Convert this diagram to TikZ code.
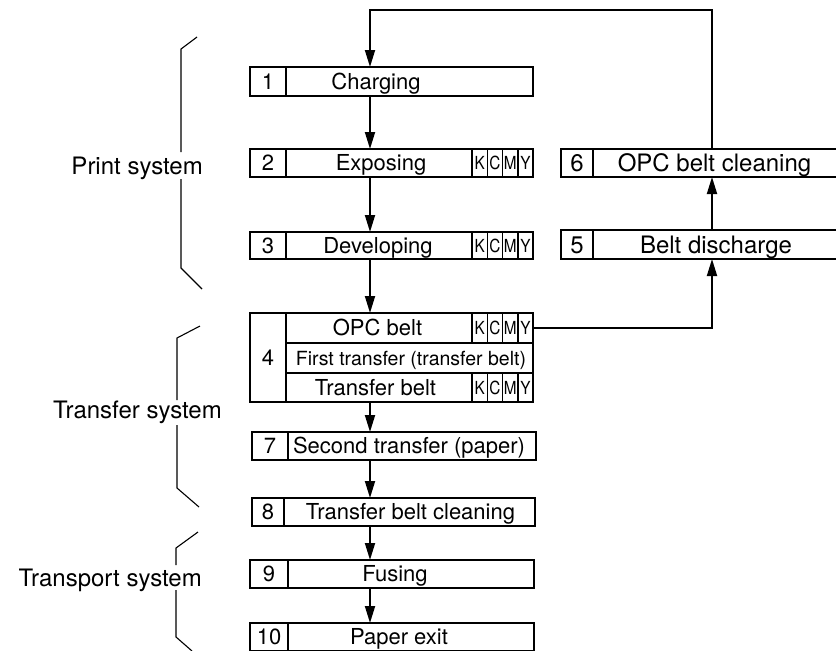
\documentclass[tikz,border=0pt]{standalone}
\usepackage{fontspec}
\setmainfont{TeX Gyre Heros}
\usetikzlibrary{arrows.meta,positioning}

\tikzset{
  box/.style={draw,line width=1.5pt,inner sep=0pt,outer sep=0pt,anchor=north west},
  numcell/.style={box,minimum width=36pt,font=\fontsize{22}{22}\selectfont,text height=15.8pt,text depth=0pt},
  bignum/.style={numcell,minimum width=32pt,font=\fontsize{24}{24}\selectfont,text height=17.2pt},
  kcmy/.style={box,minimum width=15.25pt,font=\fontsize{18}{18}\selectfont,text height=13pt,text depth=0pt},
  txt/.style={inner sep=0pt,font=\fontsize{22}{22}\selectfont,text height=15.8pt,text depth=0pt},
  bigtxt/.style={txt,font=\fontsize{24}{24}\selectfont,text height=17.2pt},
  grouplabel/.style={inner sep=0pt,anchor=east,font=\fontsize{24}{24}\selectfont,text height=17.2pt,text depth=0pt},
  flow/.style={line width=1.8pt,-{Triangle[length=17pt,width=10pt]}},
  brace/.style={line width=1.1pt}
}

\begin{document}
\begin{tikzpicture}[x=1pt,y=-1pt]
  \useasboundingbox (0,0) rectangle (836,651);

  % process steps
  \node[box,minimum width=283pt,minimum height=29pt] (b1) at (250,67) {};
  \node[numcell,minimum height=29pt] (n1) at (250,67) {1};
  \node[txt] (t1) at (376,81.5) {Charging};

  \node[box,minimum width=283pt,minimum height=28pt] (b2) at (250,149) {};
  \node[numcell,minimum height=28pt] (n2) at (250,149) {2};
  \node[txt] (t2) at (381,163) {Exposing};

  \node[box,minimum width=283pt,minimum height=27pt] (b3) at (250,232) {};
  \node[numcell,minimum height=27pt] (n3) at (250,232) {3};
  \node[txt] (t3) at (378,245.5) {Developing};

  \node[numcell,minimum height=89pt] (n4) at (250,313) {4};
  \node[box,minimum width=247pt,minimum height=30pt] (r4a) at (286,313) {};
  \node[box,minimum width=247pt,minimum height=30pt] (r4b) at (286,343) {};
  \node[box,minimum width=247pt,minimum height=29pt] (r4c) at (286,373) {};
  \node[txt] (t4a) at (377.5,328) {OPC belt};
  \node[txt,font=\fontsize{19.5}{19.5}\selectfont,text height=14pt] (t4b) at (411,358) {First transfer (transfer belt)};
  \node[txt] (t4c) at (375.5,387.5) {Transfer belt};

  \foreach \row/\top/\h in {b2/149/28,b3/232/27,r4a/313/30,r4c/373/29}{
    \foreach \l [count=\i from 0] in {K,C,M,Y}
      \node[kcmy,minimum height=\h pt] (\row\l) at ({472+15.25*\i},\top) {\scalebox{.85}[1]{\l}};
  }

  \node[box,minimum width=284pt,minimum height=28pt] (b7) at (252,432) {};
  \node[numcell,minimum height=28pt] (n7) at (252,432) {7};
  \node[txt] (t7) at (409,446) {Second transfer (paper)};

  \node[box,minimum width=283pt,minimum height=28pt] (b8) at (252,498) {};
  \node[numcell,minimum width=32pt,minimum height=28pt] (n8) at (252,498) {8};
  \node[txt] (t8) at (410.5,512) {Transfer belt cleaning};

  \node[box,minimum width=284pt,minimum height=28pt] (b9) at (250,560) {};
  \node[numcell,minimum width=38pt,minimum height=28pt] (n9) at (250,560) {9};
  \node[txt] (t9) at (395,574) {Fusing};

  \node[box,minimum width=284pt,minimum height=28pt] (b10) at (250,623) {};
  \node[numcell,minimum width=38pt,minimum height=28pt] (n10) at (250,623) {10};
  \node[txt] (t10) at (399,637) {Paper exit};

  \node[box,minimum width=290pt,minimum height=28pt] (b6) at (561,149) {};
  \node[bignum,minimum height=28pt] (n6) at (561,149) {6};
  \node[bigtxt] (t6) at (714.5,163) {OPC belt cleaning};

  \node[box,minimum width=290pt,minimum height=29pt] (b5) at (561,230) {};
  \node[bignum,minimum height=29pt] (n5) at (561,230) {5};
  \node[bigtxt] (t5) at (716,244.5) {Belt discharge};

  % flow
  \coordinate (ax) at (370,0);
  \coordinate (rx) at (712,0);
  \coordinate (topy) at (0,10);
  \draw[flow] (b1.south -| ax) -- (b2.north -| ax);
  \draw[flow] (b2.south -| ax) -- (b3.north -| ax);
  \draw[flow] (b3.south -| ax) -- (r4a.north -| ax);
  \draw[flow] (r4c.south -| ax) -- (b7.north -| ax);
  \draw[flow] (b7.south -| ax) -- (b8.north -| ax);
  \draw[flow] (b8.south -| ax) -- (b9.north -| ax);
  \draw[flow] (b9.south -| ax) -- (b10.north -| ax);
  \draw[flow] (r4a.east) -| (b5.south -| rx);
  \draw[flow] (b5.north -| rx) -- (b6.south -| rx);
  \draw[flow] (b6.north -| rx) -- (rx |- topy) -- (ax |- topy) -- (b1.north -| ax);

  % groups
  \node[grouplabel] (g1) at (203,166) {Print system};
  \draw[brace] (197,37) -- (181,49) -- (181,152);
  \draw[brace] (181,179) -- (181,268) -- (202,289);

  \node[grouplabel] (g2) at (222,410) {Transfer system};
  \draw[brace] (200,326) -- (177,338) -- (177,400);
  \draw[brace] (177,425) -- (177,488) -- (199,507);

  \node[grouplabel] (g3) at (202,578) {Transport system};
  \draw[brace] (198,532) -- (176,548) -- (176,565);
  \draw[brace] (176,590) -- (176,637) -- (192,651);
\end{tikzpicture}
\end{document}
